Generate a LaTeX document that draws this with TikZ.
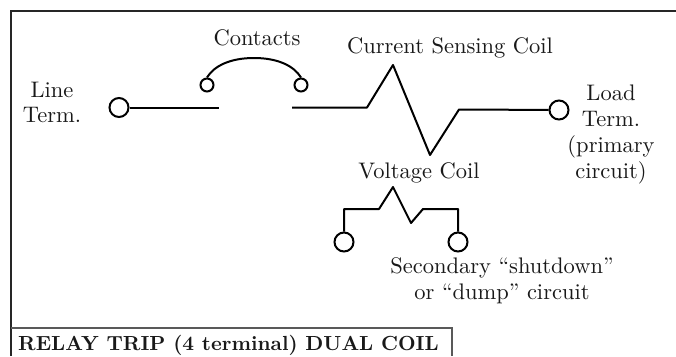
\documentclass[tikz,border=0pt]{standalone}
\usepackage{fontspec}
\setmainfont{lmroman10-regular.otf}[BoldFont=lmroman10-bold.otf]
\begin{document}
\begin{tikzpicture}[x=1pt,y=-1pt,
  wire/.style={line width=2pt,black,line join=round},
  term/.style={circle,draw=black,line width=2pt,fill=white,inner sep=0pt,minimum size=#1},
  lbl/.style={text=black!90,font=\fontsize{22.5}{26}\selectfont,inner sep=0pt,align=center,anchor=base}]
\useasboundingbox (0,0) rectangle (676,356);
\fill[white] (0,0) rectangle (676,356);
\draw[line width=2pt,black!85] (11,356) -- (11,11) -- (676,11);
\draw[line width=1.4pt,black!65] (11,328) -- (452,328) -- (452,356);
\node[term=19pt] (lt) at (119,107.5) {};
\node[term=19pt] (lo) at (559,110) {};
\node[term=13pt] (ca) at (207,85) {};
\node[term=13pt] (cb) at (301,85) {};
\node[term=19pt] (va) at (344,242) {};
\node[term=19pt] (vb) at (458,242) {};
\coordinate (g1) at (219,107.5);
\coordinate (g2) at (292,107.5);
\draw[wire] (lt) -- (g1);
\draw[wire] (g2) -- (367,107.5) -- (393,65) -- (430,155) -- (459,109.5) -- (lo);
\draw[wire] (ca.north) .. controls (214,66) and (230,58) .. (254,58) .. controls (278,58) and (294,66) .. (cb.north);
\draw[wire] (va) -- (344,209) -- (379,209) -- (393,187) -- (411,223) -- (423,209) -- (458,209) -- (vb);
\node[lbl] (tc) at (257,45) {Contacts};
\node[lbl] (tl) at (52,97) {Line};
\node[lbl] (tl2) at (52,122) {Term.};
\node[lbl] (tcs) at (450,53) {Current Sensing Coil};
\node[lbl] (tld) at (611,100) {Load};
\node[lbl] (tld2) at (611,126) {Term.};
\node[lbl] (tld3) at (611,152) {(primary};
\node[lbl] (tld4) at (611,178) {circuit)};
\node[lbl] (tv) at (419,178) {Voltage Coil};
\node[lbl] (ts) at (502,273) {Secondary ``shutdown''};
\node[lbl] (ts2) at (502,299) {or ``dump'' circuit};
\node[lbl,font=\fontsize{20.4}{26}\selectfont\bfseries,anchor=base west] (tt) at (18,350) {RELAY TRIP (4 terminal) DUAL COIL};
\end{tikzpicture}
\end{document}
